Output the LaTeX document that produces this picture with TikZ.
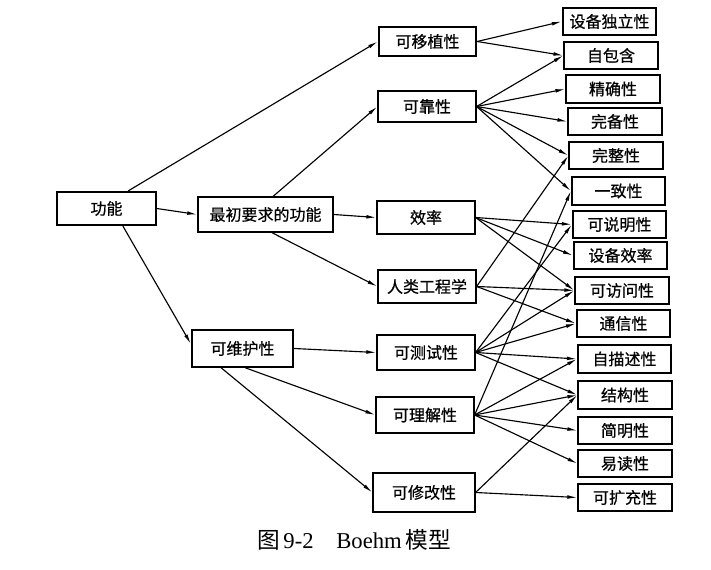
\documentclass[tikz,border=0pt]{standalone}
\usepackage{fontspec}
\setmainfont{Liberation Serif}
\newfontfamily\cjk[FakeBold=0.6]{Noto Sans CJK SC}
\newfontfamily\cjkcap{Noto Sans CJK SC}
\usetikzlibrary{arrows.meta}
\tikzset{
  box/.style={draw=black, line width=1.4pt, fill=white, inner sep=0pt,
    font=\cjk\fontsize{12}{14}\selectfont},
  leaf/.style={box, minimum width=70pt, minimum height=20.5pt},
  mid/.style={box, minimum width=73pt, minimum height=24.5pt},
  edge/.style={line width=0.85pt, -{Latex[length=7.5pt,width=2.8pt]}},
}
\begin{document}
\begin{tikzpicture}[x=0.75pt,y=-0.75pt]
\useasboundingbox (0,0) rectangle (711,570);
% left
\node[box, minimum width=74pt, minimum height=25pt] (gn) at (106.5,208.5) {功能};
\node[box, minimum width=101pt, minimum height=26pt] (zc) at (265.5,214.5) {最初要求的功能};
\node[box, minimum width=76pt, minimum height=27.5pt] (kw) at (242.5,348.5) {可维护性};
% middle
\node[mid, minimum height=22pt] (kyz) at (427.5,41.5) {可移植性};
\node[mid, minimum height=23pt] (kk) at (427,106.5) {可靠性};
\node[mid] (xl) at (426,217.5) {效率};
\node[mid] (rl) at (427,286.5) {人类工程学};
\node[mid, minimum height=26pt] (kc) at (426,352.5) {可测试性};
\node[mid, minimum height=27pt] (kl) at (425,415) {可理解性};
\node[mid, minimum width=76pt, minimum height=29pt] (kx) at (424,492.5) {可修改性};
% right
\node[leaf] (r1) at (609.5,21.5) {设备独立性};
\node[leaf] (r2) at (611,55.5) {自包含};
\node[leaf] (r3) at (613,89) {精确性};
\node[leaf] (r4) at (615,121.5) {完备性};
\node[leaf] (r5) at (616,155.5) {完整性};
\node[leaf] (r6) at (618.5,191) {一致性};
\node[leaf] (r7) at (619.5,224.5) {可说明性};
\node[leaf] (r8) at (620.5,255.5) {设备效率};
\node[leaf] (r9) at (622,290.5) {可访问性};
\node[leaf] (r10) at (623.5,323.5) {通信性};
\node[leaf] (r11) at (624.5,359) {自描述性};
\node[leaf] (r12) at (625,395) {结构性};
\node[leaf] (r13) at (625,430.5) {简明性};
\node[leaf] (r14) at (625,463.5) {易读性};
\node[leaf] (r15) at (625,497.5) {可扩充性};
% left edges
\draw[edge] (gn.39) -- (kyz.west);
\draw[edge] (gn.east) -- (zc.west);
\draw[edge] (gn.-47) -- (kw.175);
\draw[edge] (zc.67) -- (kk.west);
\draw[edge] (zc.east) -- (xl.west);
\draw[edge] (zc.-70) -- (rl.west);
\draw[edge] (kw.east) -- (kc.west);
\draw[edge] (kw.-82) -- (kl.west);
\draw[edge] (kw.-138) -- (kx.west);
% right edges
\foreach \t in {r1,r2} \draw[edge] (kyz.east) -- (\t.west);
\foreach \t in {r2,r3,r4,r5,r6} \draw[edge] (kk.east) -- (\t.west);
\foreach \t in {r7,r8,r9} \draw[edge] (xl.east) -- (\t.west);
\foreach \t in {r5,r9,r10} \draw[edge] (rl.east) -- (\t.west);
\foreach \t in {r7,r9,r10,r11,r12} \draw[edge] (kc.east) -- (\t.west);
\foreach \t in {r6,r11,r12,r13,r14} \draw[edge] (kl.east) -- (\t.west);
\foreach \t in {r12,r15} \draw[edge] (kx.east) -- (\t.west);
% caption
\node[font=\fontsize{17}{20}\selectfont] (cap) at (354,540) {{\cjkcap 图}\,9-2\quad Boehm\,{\cjkcap 模型}};
\end{tikzpicture}
\end{document}
